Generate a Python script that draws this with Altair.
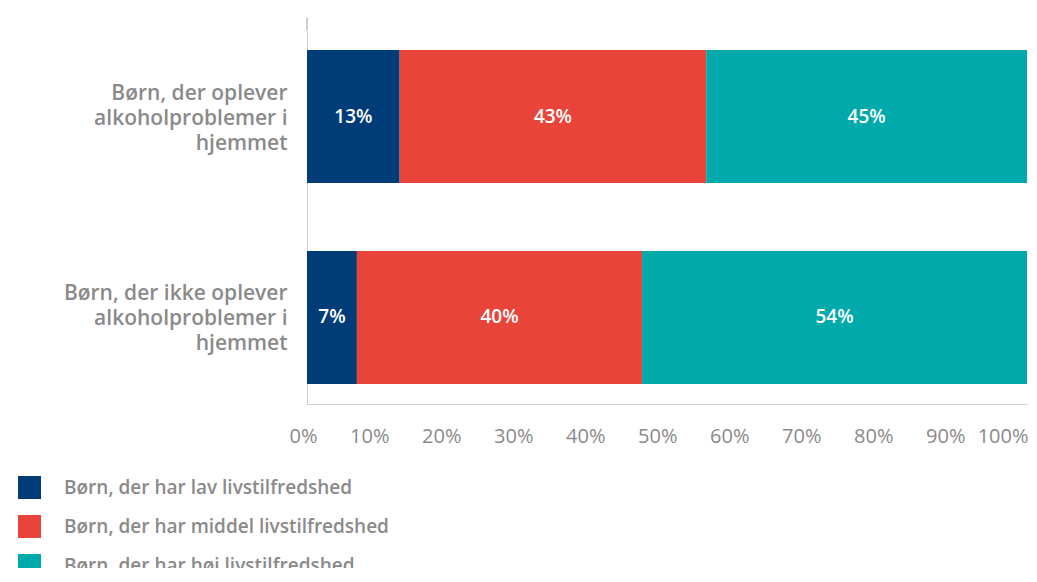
import altair as alt
import pandas as pd

groups = ["Børn, der oplever|alkoholproblemer i|hjemmet",
          "Børn, der ikke oplever|alkoholproblemer i|hjemmet"]
series = ["Børn, der har lav livstilfredshed",
          "Børn, der har middel livstilfredshed",
          "Børn, der har høj livstilfredshed"]
values = [[13, 43, 45],
          [7, 40, 54]]
colors = ["#003d78", "#e8443a", "#00a9aa"]

rows = []
for gi, g in enumerate(groups):
    for si, s in enumerate(series):
        rows.append({"group": g, "series": s, "order": si, "value": values[gi][si]})
df = pd.DataFrame(rows)

FONT = "Open Sans"
GRAY = "#8a8a8a"

base = alt.Chart(df).transform_joinaggregate(
    total="sum(value)", groupby=["group"]
).transform_window(
    cum="sum(value)", sort=[alt.SortField("order")], groupby=["group"],
    frame=[None, 0]
).transform_calculate(
    x0="(datum.cum - datum.value) / datum.total",
    x1="datum.cum / datum.total",
    xm="(datum.cum - datum.value / 2) / datum.total",
    label="datum.value + '%'"
)

yenc = alt.Y("group:N", sort=groups, title=None,
             scale=alt.Scale(paddingInner=0.338, paddingOuter=0.1),
             axis=alt.Axis(labelExpr="split(datum.label, '|')", labelFont=FONT,
                           labelFontSize=21, labelFontWeight=600, labelColor=GRAY,
                           labelLineHeight=25, labelPadding=20, ticks=False,
                           labelOffset=-23,
                           domainColor="#cccccc", labelLimit=400))

bars = base.mark_bar().encode(
    x=alt.X("x0:Q", scale=alt.Scale(domain=[0, 1], nice=False), title=None,
            axis=alt.Axis(format="%", values=[i / 10 for i in range(11)], grid=False,
                          ticks=False, labelFont=FONT, labelFontSize=20, labelColor=GRAY,
                          labelPadding=22, domainColor="#cccccc", labelAlign="right",
                          labelOffset={"condition": {"test": "datum.value >= 1", "value": 1},
                                       "value": 10},
                          labelFlush=False)),
    x2="x1:Q",
    y=yenc,
    color=alt.Color("series:N", sort=series,
                    scale=alt.Scale(domain=series, range=colors),
                    legend=alt.Legend(title=None, orient="none", legendX=-289, legendY=446,
                                      symbolType="square", symbolSize=529,
                                      symbolStrokeWidth=0, symbolOpacity=1,
                                      labelFont=FONT, labelFontSize=19, labelFontWeight=600,
                                      labelColor=GRAY, labelOffset=23, rowPadding=16,
                                      labelLimit=500)),
    order=alt.Order("order:Q"),
)

text = base.mark_text(color="white", font=FONT, fontSize=19, fontWeight=600).encode(
    x="xm:Q",
    y=alt.Y("group:N", sort=groups),
    text="label:N",
)

topline = alt.Chart(df).mark_rule(color="#cccccc").encode(
    x=alt.value(0), y=alt.value(-12), y2=alt.value(0)
)

chart = alt.layer(bars, text, topline).properties(
    width=720, height=374,
    autosize=alt.AutoSizeParams(type="none"),
    padding={"left": 299, "top": 22, "right": 2, "bottom": 164},
).configure_view(stroke=None)

chart.save("out.html", embed_options={"renderer": "svg", "actions": False})
